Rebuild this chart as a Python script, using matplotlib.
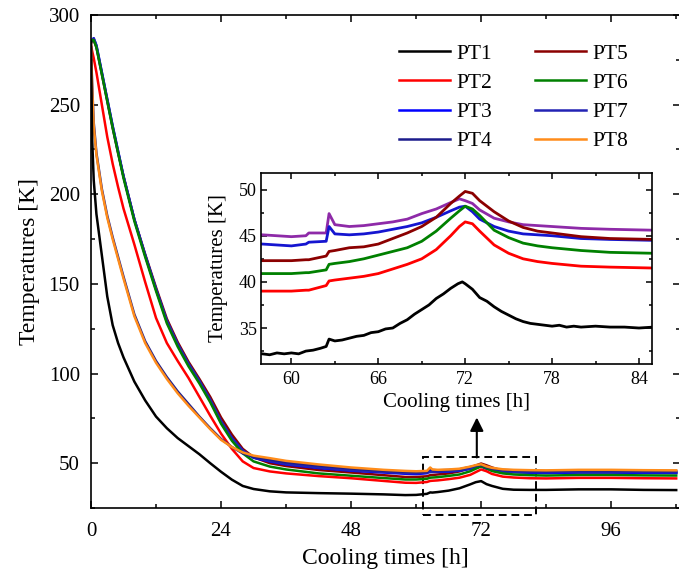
import matplotlib
matplotlib.use('Agg')
import matplotlib.pyplot as plt
from matplotlib.ticker import MultipleLocator
from matplotlib.patches import Rectangle

plt.rcParams['font.family'] = ['Liberation Serif', 'DejaVu Serif']

# main plot, cooling curves (h, K)
t_main = [0, 0.2, 0.5, 1, 2, 3, 4, 5, 6, 8, 10, 12, 14, 16, 18, 20, 22, 24, 26, 28, 30,
          33, 36, 42, 48, 54, 58,
          60, 62, 62.6, 63, 64, 66, 68, 70, 71, 72, 73, 74, 76, 78, 81, 84, 90, 96, 102, 108]

pt1 = [285, 232, 208, 189, 166, 143, 127, 117, 109, 95.5, 85, 76, 69.5, 64, 59.5, 55, 50, 45.2, 40.8, 37.3, 35.6,
       34.3, 33.7, 33.3, 33.0, 32.6, 32.2,
       32.3, 32.9, 33.7, 33.6, 33.9, 34.7, 36.0, 38.2, 39.4, 40.0, 38.3, 37.3, 35.7, 35.2, 35.1, 35.1, 35.4, 35.4, 35.1, 35.0]
pt2 = [283, 280, 276, 268, 250, 232, 217, 204, 192, 172, 151, 131, 117, 107, 97.5, 87, 76.5, 66.5, 58, 51, 47.3,
       45.4, 44.3, 42.8, 41.6, 40.1, 39.1,
       39.0, 39.5, 40.1, 40.2, 40.4, 41.1, 41.9, 43.5, 45.0, 46.5, 45.5, 44.0, 42.5, 42.0, 41.6, 41.5, 41.8, 41.8, 41.6, 41.5]
pt3 = [285, 286, 287, 283, 268, 253, 238, 224, 210, 186, 166, 147, 129, 116, 105, 95.5, 85, 73, 64, 57, 53,
       51.0, 49.3, 47.3, 45.8, 44.8, 44.1,
       43.9, 44.4, 46.0, 45.2, 45.1, 45.3, 45.8, 46.8, 47.6, 48.2, 46.8, 46.0, 45.3, 45.0, 44.7, 44.5, 44.8, 44.8, 44.6, 44.5]
pt4 = [282, 262, 240, 223, 203, 188, 176, 165, 154, 133, 118, 107, 98, 90, 83, 76, 69.5, 63.5, 59, 55.5, 53.5,
       52.0, 50.5, 48.6, 47.0, 45.8, 45.2,
       45.0, 45.2, 47.0, 46.2, 46.0, 46.2, 46.6, 47.9, 48.6, 49.0, 47.8, 46.9, 46.2, 46.0, 45.7, 45.6, 45.9, 45.9, 45.7, 45.6]
pt5 = [284, 286, 286, 282, 267, 252, 237, 223, 210, 186, 166.5, 148, 130.5, 117.5, 106.5, 97, 87, 75.5, 66, 58, 53.3,
       50.0, 48.4, 46.2, 44.8, 43.3, 42.3,
       42.3, 42.7, 43.3, 43.4, 43.7, 44.3, 45.4, 47.4, 48.7, 49.8, 48.8, 47.6, 45.8, 45.3, 44.8, 44.6, 44.9, 44.9, 44.7, 44.6]
pt6 = [285, 286, 286, 282, 267, 252, 237, 223, 209, 185, 165, 146, 128, 115, 104, 94.5, 84, 72, 62.5, 55.5, 51,
       48.1, 46.5, 44.3, 43.0, 41.7, 40.9,
       40.9, 41.3, 41.9, 42.0, 42.2, 42.9, 43.7, 45.5, 46.9, 48.2, 47.2, 45.6, 44.3, 43.7, 43.3, 43.1, 43.4, 43.4, 43.2, 43.1]
pt7 = [285, 286, 287, 283, 268, 253, 238, 224, 210, 186, 166, 147, 129.5, 116.5, 105.5, 96, 85.5, 73.5, 64, 57, 53.2,
       51.3, 49.6, 47.6, 46.1, 45.1, 44.5,
       44.4, 44.7, 45.0, 45.1, 45.3, 45.6, 46.0, 47.0, 47.8, 48.4, 47.3, 46.3, 45.4, 45.1, 45.0, 44.9, 45.2, 45.2, 45.0, 44.9]
pt8 = [283, 260, 238, 222, 202, 187, 175, 164, 153, 132, 117, 106, 97, 89, 82, 75.5, 69, 63, 59, 56, 54.2,
       52.8, 51.3, 49.3, 47.6, 46.3, 45.7,
       45.5, 45.7, 47.6, 46.5, 46.3, 46.5, 46.9, 48.1, 48.9, 49.4, 48.2, 47.4, 46.6, 46.3, 46.1, 46.0, 46.3, 46.3, 46.1, 46.0]

# inset, zoom on 58-85 h
t_ins = [58, 60, 61, 61.2, 62.4, 62.6, 63, 64, 65, 66, 67, 68, 69, 70, 71, 71.6, 72, 72.5, 73, 74,
         75, 76, 77, 78, 80, 82, 85]
ins_red = [39.0, 39.0, 39.1, 39.1, 39.6, 40.1, 40.2, 40.4, 40.6, 40.9, 41.4, 41.9, 42.5, 43.5, 45.0, 46.0,
           46.5, 46.3, 45.5, 44.0, 43.1, 42.5, 42.2, 42.0, 41.7, 41.6, 41.5]
ins_green = [40.9, 40.9, 41.0, 41.0, 41.3, 41.9, 42.0, 42.2, 42.5, 42.9, 43.3, 43.7, 44.4, 45.5, 46.9, 47.7,
             48.2, 47.9, 47.2, 45.6, 44.8, 44.2, 43.9, 43.7, 43.4, 43.2, 43.1]
ins_darkred = [42.3, 42.3, 42.4, 42.4, 42.8, 43.3, 43.4, 43.7, 43.8, 44.1, 44.7, 45.3, 46.0, 47.0, 48.5, 49.3,
               49.8, 49.6, 48.8, 47.6, 46.6, 45.9, 45.5, 45.3, 44.9, 44.7, 44.6]
ins_blue = [44.1, 43.9, 44.1, 44.3, 44.4, 46.0, 45.2, 45.1, 45.2, 45.4, 45.7, 46.0, 46.4, 47.0, 47.7, 48.1,
            48.2, 47.6, 46.8, 46.0, 45.5, 45.2, 45.1, 45.0, 44.7, 44.6, 44.5]
ins_purple = [45.1, 44.9, 45.0, 45.3, 45.3, 47.4, 46.2, 46.0, 46.1, 46.3, 46.5, 46.8, 47.4, 47.9, 48.6, 49.0,
              48.8, 48.5, 47.8, 46.9, 46.5, 46.2, 46.1, 46.0, 45.8, 45.7, 45.6]

t_ins_pt1 = [58, 58.5, 59, 59.5, 60, 60.5, 61, 61.5, 62, 62.4, 62.6, 63, 63.5, 64, 64.5, 65, 65.5, 66, 66.5,
             67, 67.5, 68, 68.5, 69, 69.5, 70, 70.5, 71, 71.5, 71.8, 72, 72.5, 73, 73.5, 74, 74.5, 75, 75.5,
             76, 76.5, 77, 77.5, 78, 78.5, 79, 79.5, 80, 81, 82, 83, 84, 85]
ins_pt1 = [32.2, 32.1, 32.3, 32.2, 32.3, 32.2, 32.5, 32.6, 32.8, 33.0, 33.8, 33.6, 33.7, 33.9, 34.1, 34.2,
           34.5, 34.6, 34.9, 35.0, 35.5, 35.9, 36.5, 37.0, 37.5, 38.2, 38.7, 39.3, 39.8, 40.0, 39.8, 39.2,
           38.3, 37.9, 37.3, 36.8, 36.4, 36.0, 35.7, 35.5, 35.4, 35.3, 35.2, 35.3, 35.1, 35.2, 35.1, 35.2,
           35.1, 35.1, 35.0, 35.1]


def style_axes(ax, labelsize, pad, major_len, minor_len):
    ax.tick_params(which='both', direction='in', top=True, right=True,
                   labelsize=labelsize, pad=pad, width=1.1)
    ax.tick_params(which='major', length=major_len)
    ax.tick_params(which='minor', length=minor_len)
    for sp in ax.spines.values():
        sp.set_linewidth(1.2)


fig = plt.figure(figsize=(6.79, 5.70), dpi=100)

# основной график
ax = fig.add_axes([91 / 679, 1 - 508 / 570, (680 - 91) / 679, (508 - 15) / 570])
lw = 1.8
ax.plot(t_main, pt5, color='#8b0000', lw=lw, label='PT5')
ax.plot(t_main, pt3, color='#0000ff', lw=lw, label='PT3')
ax.plot(t_main, pt7, color='#2323b4', lw=lw, label='PT7')
ax.plot(t_main, pt6, color='#008000', lw=lw, label='PT6')
ax.plot(t_main, pt2, color='#ff0000', lw=lw, label='PT2')
ax.plot(t_main, pt4, color='#1c1c8c', lw=lw, label='PT4')
ax.plot(t_main, pt8, color='#ff8c1a', lw=lw, label='PT8')
ax.plot(t_main, pt1, color='black', lw=lw, label='PT1')

ax.set_xlim(0, 108.7)
ax.set_ylim(25, 300)
ax.xaxis.set_major_locator(MultipleLocator(24))
ax.xaxis.set_minor_locator(MultipleLocator(12))
ax.yaxis.set_major_locator(MultipleLocator(50))
ax.yaxis.set_minor_locator(MultipleLocator(25))
style_axes(ax, 15, 8, 5, 3)
ax.tick_params(axis='x', which='both', pad=10)
ax.set_xlabel('Cooling times [h]', fontsize=17, labelpad=5)
ax.set_ylabel('Temperatures [K]', fontsize=17, labelpad=6)

handles, labels = ax.get_legend_handles_labels()
order = ['PT1', 'PT2', 'PT3', 'PT4', 'PT5', 'PT6', 'PT7', 'PT8']
hmap = dict(zip(labels, handles))
fig.legend([hmap[k] for k in order], order, ncol=2, frameon=False, fontsize=15.5,
           loc='upper left', bbox_to_anchor=(388 / 679, 1 - 33 / 570), borderpad=0,
           handlelength=2.4, handletextpad=0.3, columnspacing=1.95, labelspacing=0.42)

# пунктирная рамка и стрелка
box = Rectangle((61.2, 21.0), 82.1 - 61.2, 53.2 - 21.0, fill=False, ls=(0, (4, 2.5)),
                lw=1.4, color='black', clip_on=False)
ax.add_patch(box)
ax.annotate('', xy=(71.2, 75.5), xytext=(71.2, 53.2),
            arrowprops=dict(arrowstyle='-|>', mutation_scale=20, lw=1.5, color='black',
                            shrinkA=0, shrinkB=0),
            annotation_clip=False)

# вставка
ins = fig.add_axes([261 / 679, 1 - 364 / 570, (652 - 261) / 679, (364 - 173) / 570])
lw2 = 2.0
ins.plot(t_ins, ins_purple, color='#8e2aa8', lw=lw2)
ins.plot(t_ins, ins_blue, color='#1515d0', lw=lw2)
ins.plot(t_ins, ins_darkred, color='#8b0000', lw=lw2)
ins.plot(t_ins, ins_green, color='#008000', lw=lw2)
ins.plot(t_ins, ins_red, color='#ff0000', lw=lw2)
ins.plot(t_ins_pt1, ins_pt1, color='black', lw=lw2)
ins.set_xlim(57.9, 84.9)
ins.set_ylim(31.1, 51.8)
ins.xaxis.set_major_locator(MultipleLocator(6))
ins.xaxis.set_minor_locator(MultipleLocator(3))
ins.yaxis.set_major_locator(MultipleLocator(5))
ins.yaxis.set_minor_locator(MultipleLocator(2.5))
style_axes(ins, 13, 3, 4.5, 2.5)
ins.tick_params(axis='x', which='both', pad=5)
ins.set_xlabel('Cooling times [h]', fontsize=15, labelpad=4)
ins.set_ylabel('Temperatures [K]', fontsize=15, labelpad=8)

fig.savefig('out.png', dpi=100)
